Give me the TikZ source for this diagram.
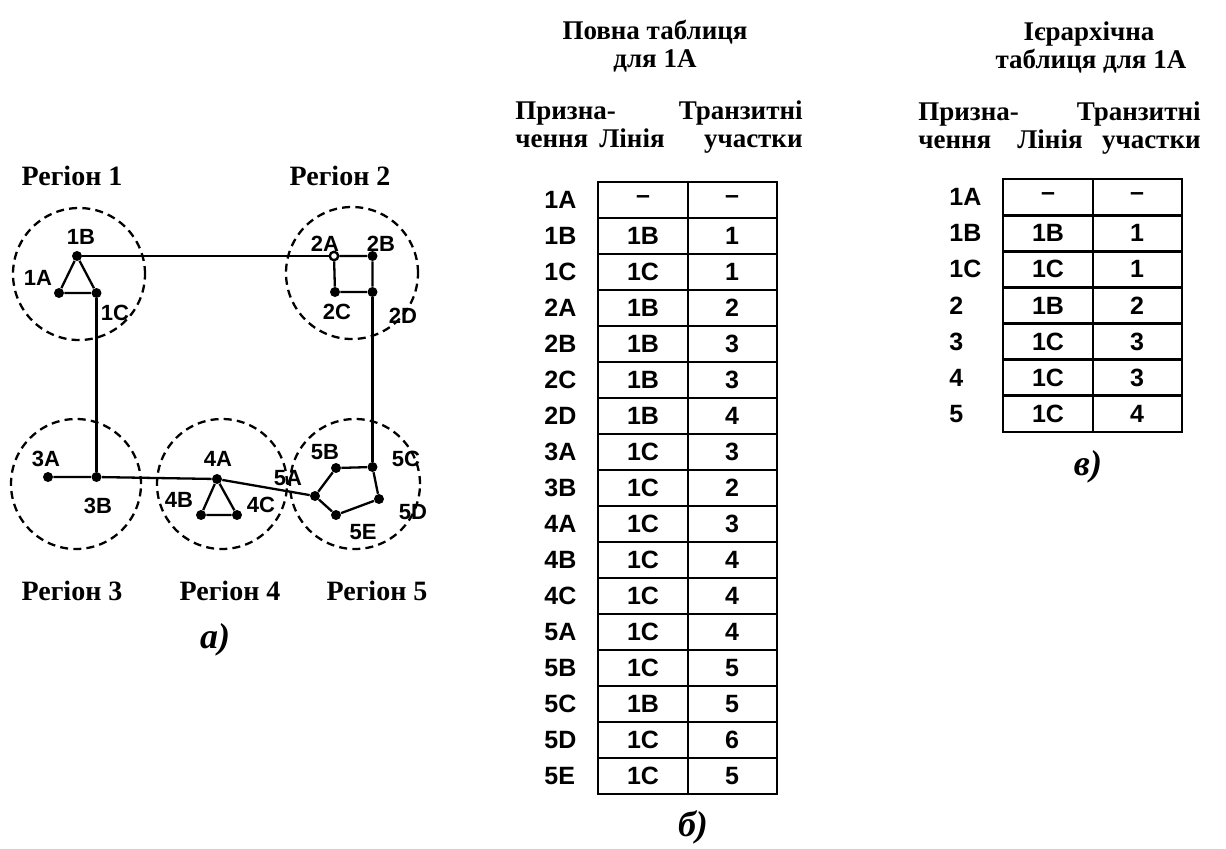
\documentclass[tikz,border=0pt]{standalone}
\usepackage{fontspec}
\setmainfont{Liberation Serif}
\newfontfamily\arial{Liberation Sans}
\begin{document}
\begin{tikzpicture}[x=0.5pt,y=-0.5pt,
 dot/.style={circle,fill=black,inner sep=0pt,minimum size=5pt},
 ring/.style={circle,draw=black,fill=white,line width=1.2pt,inner sep=0pt,minimum size=4.2pt},
 link/.style={line width=1.15pt},
 region/.style={dash pattern=on 4pt off 2.6pt, line width=1.15pt},
 lbl/.style={font=\arial\bfseries\fontsize{11}{13}\selectfont, inner sep=0pt},
 rtitle/.style={font=\bfseries\fontsize{14}{16}\selectfont, anchor=base, inner sep=0pt},
 hdr/.style={font=\bfseries\fontsize{13.5}{16}\selectfont, inner sep=0pt},
 cell/.style={font=\arial\bfseries\fontsize{12.5}{14}\selectfont, inner sep=0pt},
 tline/.style={line width=1.4pt},
 sub/.style={font=\bfseries\itshape\fontsize{18}{20}\selectfont, inner sep=0pt},
]
\useasboundingbox (0,0) rectangle (1226,848);

% ---------- network (a) ----------
\draw[region] (79,274) circle [radius=33pt];
\draw[region] (352,273) circle [radius=33pt];
\draw[region] (76,484) circle [radius=32.5pt];
\draw[region] (222,484) circle [radius=32.5pt];
\draw[region] (355,484) circle [radius=32.5pt];

\node[dot] (n1A) at (59,293) {};
\node[dot] (n1B) at (77,256) {};
\node[dot] (n1C) at (96.5,293) {};
\node[ring] (n2A) at (334,256) {};
\node[dot] (n2B) at (372.5,256) {};
\node[dot] (n2C) at (335,292) {};
\node[dot] (n2D) at (372.5,292) {};
\node[dot] (n3A) at (48,477) {};
\node[dot] (n3B) at (96.5,477) {};
\node[dot] (n4A) at (217,479) {};
\node[dot] (n4B) at (201,515) {};
\node[dot] (n4C) at (237,515) {};
\node[dot] (n5A) at (315,496) {};
\node[dot] (n5B) at (336,468) {};
\node[dot] (n5C) at (372.5,467) {};
\node[dot] (n5D) at (379,499) {};
\node[dot] (n5E) at (336,515) {};

\draw[link] (n1A) -- (n1B) -- (n1C) -- (n1A);
\draw[link] (n1B) -- (n2A);
\draw[link] (n2A) -- (n2B) -- (n2D) -- (n2C) -- (n2A);
\draw[link] (n1C) -- (n3B);
\draw[link] (n2D) -- (n5C);
\draw[link] (n3A) -- (n3B) -- (n4A) -- (n5A);
\draw[link] (n4A) -- (n4B) -- (n4C) -- (n4A);
\draw[link] (n5A) -- (n5B) -- (n5C) -- (n5D) -- (n5E) -- (n5A);

\node[lbl] (t1A) at (38,278) {1A};
\node[lbl] (t1B) at (81,237) {1B};
\node[lbl] (t1C) at (115,313) {1C};
\node[lbl] (t2A) at (325,244) {2A};
\node[lbl] (t2B) at (381,244) {2B};
\node[lbl] (t2C) at (337,312) {2C};
\node[lbl] (t2D) at (403,316) {2D};
\node[lbl] (t3A) at (46,459) {3A};
\node[lbl] (t3B) at (98,506) {3B};
\node[lbl] (t4A) at (218,459) {4A};
\node[lbl] (t4B) at (179,500) {4B};
\node[lbl] (t4C) at (261,505) {4C};
\node[lbl] (t5A) at (288,478) {5A};
\node[lbl] (t5B) at (325,452) {5B};
\node[lbl] (t5C) at (406,459) {5C};
\node[lbl] (t5D) at (413,512) {5D};
\node[lbl] (t5E) at (363,532) {5E};

\node[rtitle] (r1) at (72,185) {Регіон 1};
\node[rtitle] (r2) at (340,185) {Регіон 2};
\node[rtitle] (r3) at (72,600) {Регіон 3};
\node[rtitle] (r4) at (230,600) {Регіон 4};
\node[rtitle] (r5) at (377,600) {Регіон 5};

\node[sub] (sa) at (215,640) {а)};

% ---------- full table (b) ----------
\node[hdr, anchor=base] (bt1) at (655,39) {Повна таблиця};
\node[hdr, anchor=base] (bt2) at (655,67) {для 1А};
\node[hdr, anchor=base west] (bh1) at (515,119) {Призна-};
\node[hdr, anchor=base west] (bh2) at (515,147) {чення};
\node[hdr, anchor=base] (bh3) at (632,147) {Лінія};
\node[hdr, anchor=base east] (bh4) at (803,119) {Транзитні};
\node[hdr, anchor=base east] (bh5) at (803,147) {участки};

\draw[tline] (598,182) rectangle (777,794);
\draw[tline] (688,182) -- (688,794);
\foreach \k in {1,...,16} \draw[tline] (598,182+36*\k) -- (777,182+36*\k);
\foreach \d/\l/\t [count=\i from 0] in {1A/–/–,1B/1B/1,1C/1C/1,2A/1B/2,2B/1B/3,2C/1B/3,2D/1B/4,3A/1C/3,3B/1C/2,4A/1C/3,4B/1C/4,4C/1C/4,5A/1C/4,5B/1C/5,5C/1B/5,5D/1C/6,5E/1C/5}{
  \node[cell, anchor=west] (bd\i) at (544,200+36*\i) {\d};
  \node[cell] (bl\i) at (643,200+36*\i) {\l};
  \node[cell] (bs\i) at (732,200+36*\i) {\t};
}
\node[sub] (sb) at (693,827) {б)};

% ---------- hierarchical table (c) ----------
\node[hdr, anchor=base] (ct1) at (1089,40) {Ієрархічна};
\node[hdr, anchor=base] (ct2) at (1091,68) {таблиця для 1А};
\node[hdr, anchor=base west] (ch1) at (918,120) {Призна-};
\node[hdr, anchor=base west] (ch2) at (918,148) {чення};
\node[hdr, anchor=base] (ch3) at (1050,148) {Лінія};
\node[hdr, anchor=base east] (ch4) at (1201,120) {Транзитні};
\node[hdr, anchor=base east] (ch5) at (1201,148) {участки};

\draw[tline] (1003,179) rectangle (1182,432);
\draw[tline] (1093,179) -- (1093,432);
\foreach \k in {1,...,6} \draw[tline] (1003,179+36.14*\k) -- (1182,179+36.14*\k);
\foreach \d/\l/\t [count=\i from 0] in {1A/–/–,1B/1B/1,1C/1C/1,2/1B/2,3/1C/3,4/1C/3,5/1C/4}{
  \node[cell, anchor=west] (cd\i) at (949,197+36.14*\i) {\d};
  \node[cell] (cl\i) at (1048,197+36.14*\i) {\l};
  \node[cell] (cs\i) at (1137,197+36.14*\i) {\t};
}
\node[sub] (sc) at (1088,467) {в)};
\end{tikzpicture}
\end{document}
